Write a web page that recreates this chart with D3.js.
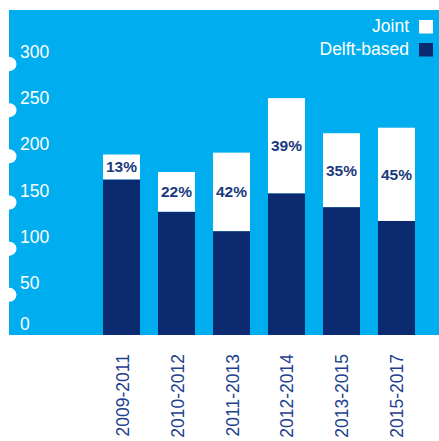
<!DOCTYPE html>
<html>
<head>
<meta charset="utf-8">
<script src="https://cdn.jsdelivr.net/npm/d3@7"></script>
<style>
  html, body { margin: 0; padding: 0; background: #ffffff; }
  svg { display: block; font-family: "Liberation Sans", Arial, sans-serif; }
</style>
</head>
<body>
<svg id="chart" width="439" height="441"></svg>
<script>
const categories = ["2009-2011", "2010-2012", "2011-2013", "2012-2014", "2013-2015", "2015-2017"];
const delftBased = [175, 140, 119, 160, 145, 130];
const joint = [27, 43, 85, 103, 80, 101];
const jointLabels = ["13%", "22%", "42%", "39%", "35%", "45%"];
const yTicks = [0, 50, 100, 150, 200, 250, 300];
const seriesNames = ["Joint", "Delft-based"];

const W = 439, H = 441;
const panel = { x: 9, y: 10, w: W - 9, h: 325 };
const colors = { panel: "#00aeef", navy: "#0b2a70", joint: "#ffffff", text: "#1b3a7e", axisLabel: "#1f3f8f" };

const svg = d3.select("#chart");

svg.append("defs").append("clipPath").attr("id", "panelClip")
  .append("rect").attr("x", panel.x).attr("y", panel.y).attr("width", panel.w).attr("height", panel.h);

svg.append("rect")
  .attr("x", panel.x).attr("y", panel.y).attr("width", panel.w).attr("height", panel.h)
  .attr("fill", colors.panel);

const x = d3.scaleBand().domain(categories).range([103, 415]).paddingInner(0.327).paddingOuter(0);
const y = d3.scaleLinear().domain([0, 300]).range([341, 64]);

const data = categories.map((c, i) => ({ cat: c, delft: delftBased[i], joint: joint[i], label: jointLabels[i] }));

const g = svg.append("g").attr("clip-path", "url(#panelClip)");

// Y notches (white half-circles on panel's left edge)
svg.append("g").selectAll("circle")
  .data(yTicks.filter(d => d > 0))
  .join("circle")
  .attr("cx", panel.x + 0.5).attr("cy", d => y(d)).attr("r", 7)
  .attr("fill", "#ffffff");

// Y labels
svg.append("g").selectAll("text")
  .data(yTicks)
  .join("text")
  .attr("x", 20)
  .attr("y", d => Math.min(y(d) - 6, panel.y + panel.h - 5))
  .attr("fill", "#ffffff")
  .attr("font-size", 17.5)
  .text(d => d);

// Bars - Delft-based
g.selectAll("rect.delft")
  .data(data)
  .join("rect").attr("class", "delft")
  .attr("x", d => x(d.cat)).attr("width", x.bandwidth())
  .attr("y", d => y(d.delft)).attr("height", d => y(0) - y(d.delft))
  .attr("fill", colors.navy);

// Bars - Joint
g.selectAll("rect.joint")
  .data(data)
  .join("rect").attr("class", "joint")
  .attr("x", d => x(d.cat)).attr("width", x.bandwidth())
  .attr("y", d => y(d.delft + d.joint)).attr("height", d => y(d.delft) - y(d.delft + d.joint))
  .attr("fill", colors.joint);

// Percent labels
svg.append("g").selectAll("text")
  .data(data)
  .join("text")
  .attr("x", d => x(d.cat) + x.bandwidth() / 2)
  .attr("y", d => (y(d.delft) + y(d.delft + d.joint)) / 2)
  .attr("text-anchor", "middle")
  .attr("dominant-baseline", "central")
  .attr("font-weight", "bold")
  .attr("font-size", 15.5)
  .attr("fill", colors.text)
  .text(d => d.label);

// X axis labels
svg.append("g").selectAll("text")
  .data(categories)
  .join("text")
  .attr("transform", d => `translate(${x(d) + x.bandwidth() / 2 + 1},354) rotate(-90)`)
  .attr("text-anchor", "end")
  .attr("dominant-baseline", "central")
  .attr("font-size", 17.5)
  .attr("fill", colors.axisLabel)
  .text(d => d);

// Legend
const legend = svg.append("g");
const legendItems = seriesNames.map((n, i) => ({ name: n, color: i === 0 ? colors.joint : colors.navy, i }));
legend.selectAll("text")
  .data(legendItems)
  .join("text")
  .attr("x", 409)
  .attr("y", d => 32 + d.i * 23)
  .attr("text-anchor", "end")
  .attr("font-size", 17.5)
  .attr("fill", "#ffffff")
  .text(d => d.name);
legend.selectAll("rect")
  .data(legendItems)
  .join("rect")
  .attr("x", 419).attr("y", d => 20 + d.i * 23)
  .attr("width", 14).attr("height", 13.5)
  .attr("fill", d => d.color);
</script>
</body>
</html>
